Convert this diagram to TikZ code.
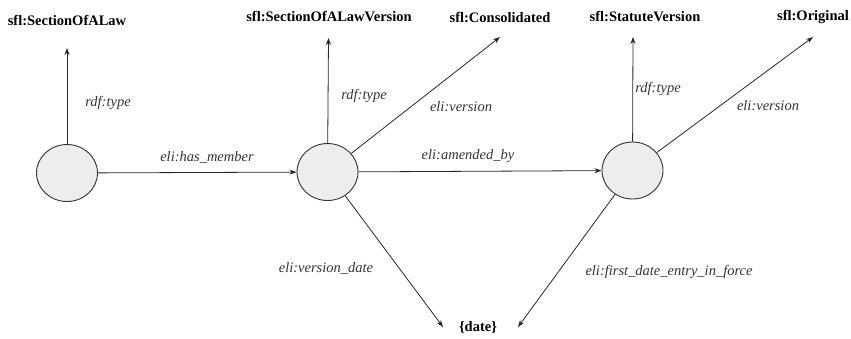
\documentclass[tikz,border=0pt]{standalone}
\usepackage{fontspec}
\setmainfont{Liberation Serif}
\usetikzlibrary{shapes.geometric,arrows.meta}
\begin{document}
\begin{tikzpicture}[x=1pt,y=-1pt,
  res/.style={ellipse,draw=black!80,line width=0.9pt,fill=black!7,minimum width=61pt,minimum height=57pt,inner sep=0pt},
  cls/.style={font=\fontsize{14.5}{16}\selectfont\bfseries,inner sep=0pt},
  lbl/.style={font=\fontsize{14.5}{16}\selectfont\itshape,text=black!80,inner sep=0pt},
  rel/.style={draw=black!85,line width=0.8pt,-{Stealth[length=7pt,width=5pt]}}]
\useasboundingbox (0,0) rectangle (851,338);
% resources
\node[res] (c1) at (67,173) {};
\node[res] (c2) at (327.5,172) {};
\node[res] (c3) at (632.5,170.5) {};
% class / value texts
\node[cls] (t1) at (67,20) {sfl:SectionOfALaw};
\node[cls] (t2) at (329,17) {sfl:SectionOfALawVersion};
\node[cls] (t3) at (500,17) {sfl:Consolidated};
\node[cls] (t4) at (645,17) {sfl:StatuteVersion};
\node[cls] (t5) at (813,17) {sfl:Original};
\node[cls] (t6) at (478,327) {\{date\}};
% arrow tips
\coordinate (p1) at (67,48);
\coordinate (p2) at (328.5,38);
\coordinate (p3) at (500,37);
\coordinate (p4) at (633,37);
\coordinate (p5) at (813,37);
\coordinate (p6) at (443,327);
\coordinate (p7) at (518,327);
% connectors
\draw[rel] (c1) -- (p1);
\draw[rel] (c2) -- (p2);
\draw[rel] (c2) -- (p3);
\draw[rel] (c3) -- (p4);
\draw[rel] (c3) -- (p5);
\draw[rel] (c1) -- (c2);
\draw[rel] (c2) -- (c3);
\draw[rel] (c2) -- (p6);
\draw[rel] (c3) -- (p7);
% labels
\node[lbl] (l1) at (108,103) {rdf:type};
\node[lbl] (l2) at (207,157) {eli:has\_member};
\node[lbl] (l3) at (364,96) {rdf:type};
\node[lbl] (l4) at (461,107) {eli:version};
\node[lbl] (l5) at (468,156) {eli:amended\_by};
\node[lbl] (l6) at (658,89) {rdf:type};
\node[lbl] (l7) at (768,106) {eli:version};
\node[lbl] (l8) at (326,268) {eli:version\_date};
\node[lbl] (l9) at (669,272) {eli:first\_date\_entry\_in\_force};
\end{tikzpicture}
\end{document}
